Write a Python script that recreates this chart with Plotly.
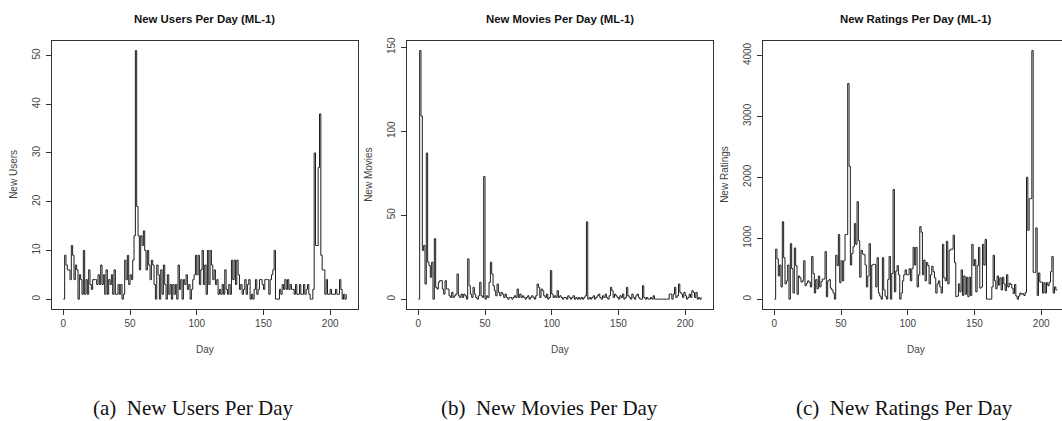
import plotly.graph_objects as go

# ---- daily counts for the ML-1 data set (day index 0..212) ----
days = list(range(213))

new_users = [
    0, 9, 7, 6, 6, 4, 11, 9, 4, 7,
    6, 0, 5, 4, 1, 10, 1, 4, 1, 6,
    3, 2, 4, 4, 4, 3, 5, 3, 7, 3,
    5, 1, 6, 1, 4, 3, 5, 1, 6, 1,
    1, 3, 1, 3, 0, 1, 8, 4, 9, 3,
    5, 4, 8, 13, 51, 19, 13, 6, 13, 11,
    14, 10, 6, 10, 7, 4, 8, 7, 3, 0,
    7, 5, 0, 6, 1, 7, 3, 0, 5, 1,
    3, 0, 3, 1, 3, 0, 7, 2, 4, 0,
    4, 3, 5, 2, 3, 0, 2, 4, 5, 9,
    5, 9, 3, 6, 10, 3, 7, 1, 10, 3,
    10, 7, 4, 6, 3, 4, 1, 2, 1, 3,
    1, 6, 2, 1, 3, 1, 8, 4, 8, 3,
    8, 5, 2, 3, 1, 2, 4, 1, 3, 4,
    0, 1, 0, 2, 4, 1, 2, 4, 4, 3,
    2, 4, 4, 4, 1, 4, 5, 6, 10, 0,
    0, 0, 2, 1, 3, 2, 4, 2, 4, 2,
    3, 2, 2, 1, 3, 1, 1, 3, 1, 1,
    3, 1, 2, 3, 1, 0, 0, 2, 30, 11,
    11, 27, 38, 9, 6, 6, 1, 4, 1, 1,
    2, 1, 1, 1, 2, 1, 1, 4, 2, 0,
    1, 0, 1,
]

new_movies = [
    0, 148, 109, 29, 32, 9, 87, 22, 20, 13,
    22, 0, 36, 7, 6, 10, 11, 11, 6, 3,
    11, 6, 6, 2, 1, 4, 1, 2, 3, 15,
    2, 1, 3, 1, 3, 2, 0, 24, 8, 3,
    1, 7, 3, 1, 0, 2, 10, 2, 1, 73,
    0, 2, 1, 10, 22, 15, 8, 5, 2, 9,
    4, 2, 4, 3, 1, 3, 1, 0, 1, 1,
    0, 1, 2, 1, 6, 1, 3, 1, 2, 1,
    0, 1, 2, 0, 1, 2, 1, 0, 2, 9,
    7, 1, 6, 5, 2, 1, 3, 0, 1, 17,
    3, 1, 2, 1, 5, 1, 2, 1, 0, 1,
    1, 0, 2, 1, 0, 1, 2, 0, 1, 0,
    1, 0, 1, 0, 1, 2, 46, 0, 1, 0,
    1, 2, 0, 1, 2, 3, 1, 0, 2, 1,
    3, 1, 0, 2, 7, 5, 1, 3, 2, 1,
    0, 2, 1, 3, 0, 1, 7, 2, 1, 0,
    3, 1, 0, 2, 3, 1, 0, 0, 8, 1,
    0, 1, 0, 0, 1, 0, 2, 0, 0, 0,
    0, 0, 0, 0, 0, 0, 0, 0, 3, 3,
    0, 3, 7, 1, 2, 9, 4, 3, 1, 4,
    2, 0, 1, 3, 1, 5, 4, 1, 4, 0,
    1, 0, 1,
]

new_ratings = [
    0, 820, 660, 380, 560, 200, 1270, 680, 250, 300,
    560, 0, 910, 500, 100, 840, 550, 80, 380, 350,
    280, 300, 630, 220, 260, 300, 280, 200, 700, 420,
    100, 320, 170, 380, 200, 290, 330, 330, 780, 40,
    300, 320, 180, 150, 100, 0, 720, 550, 1060, 270,
    630, 300, 630, 1060, 1060, 3540, 2180, 560, 750, 860,
    1240, 900, 1600, 960, 360, 800, 740, 730, 560, 200,
    380, 910, 0, 560, 570, 570, 200, 680, 100, 50,
    0, 680, 150, 50, 0, 320, 700, 0, 420, 1800,
    120, 460, 550, 400, 0, 100, 300, 400, 480, 400,
    400, 500, 300, 500, 850, 560, 850, 200, 400, 1190,
    1100, 400, 640, 300, 600, 550, 250, 400, 540, 450,
    350, 100, 250, 300, 200, 100, 900, 350, 300, 950,
    250, 800, 820, 820, 1050, 600, 40, 50, 250, 120,
    480, 60, 380, 80, 360, 40, 360, 60, 900, 550,
    650, 120, 550, 850, 180, 200, 900, 560, 980, 0,
    0, 0, 0, 200, 720, 300, 170, 380, 230, 350,
    150, 360, 250, 140, 400, 200, 260, 240, 180, 90,
    240, 50, 0, 50, 100, 80, 90, 60, 110, 2000,
    1130, 1650, 1650, 4080, 440, 440, 1170, 60, 430, 280,
    280, 100, 270, 100, 270, 220, 280, 450, 700, 100,
    200, 150, 150,
]

x_ticks = [0, 50, 100, 150, 200]
users_ticks = [0, 10, 20, 30, 40, 50]
movies_ticks = [0, 50, 100, 150]
ratings_ticks = [0, 1000, 2000, 3000, 4000]

titles = ["New Users Per Day (ML-1)", "New Movies Per Day (ML-1)", "New Ratings Per Day (ML-1)"]
y_titles = ["New Users", "New Movies", "New Ratings"]
captions = ["(a)\u00a0\u00a0New Users Per Day", "(b)\u00a0\u00a0New Movies Per Day", "(c)\u00a0\u00a0New Ratings Per Day"]

# ---- page geometry (pixels) ----
W, H = 1062, 421
box_top, box_bottom = 37, 308
box_lefts = [52, 407, 763]
box_width = 305.5
caption_x = [193, 549, 904]

SANS = "Liberation Sans, Arial, sans-serif"
SERIF = "Liberation Serif, Times New Roman, serif"
INK = "#1e1e1e"
TXT = "#444444"


def padded(lo, hi):
    span = hi - lo
    return [lo - 0.04 * span, hi + 0.04 * span]


def px_x(p):
    return p / W


def px_y(p):
    return 1 - p / H


series = [new_users, new_movies, new_ratings]
y_tick_sets = [users_ticks, movies_ticks, ratings_ticks]

fig = go.Figure()
layout = dict(
    width=W, height=H,
    margin=dict(l=0, r=0, t=0, b=0),
    paper_bgcolor="white", plot_bgcolor="white",
    showlegend=False,
    font=dict(family=SANS, color=TXT, size=10),
)
annotations = []

for i, vals in enumerate(series):
    n = "" if i == 0 else str(i + 1)
    fig.add_trace(go.Scatter(
        x=days, y=vals, mode="lines",
        line=dict(shape="hv", color=INK, width=1),
        xaxis="x" + n, yaxis="y" + n, hoverinfo="skip",
    ))

    xr = padded(min(days), max(days))
    left = box_lefts[i]
    right = left + box_width
    if right > W:
        # the last panel runs past the page edge: keep the same scale, show what fits
        frac = (W - left) / box_width
        xr = [xr[0], xr[0] + (xr[1] - xr[0]) * frac]
        right = W
    yr = padded(0, max(vals))

    axis_common = dict(
        showgrid=False, zeroline=False, showline=True,
        linecolor="#333333", linewidth=1,
        ticks="outside", ticklen=5, tickwidth=1, tickcolor="#333333",
        tickfont=dict(size=10, color=TXT, family=SANS),
    )
    layout["xaxis" + n] = dict(
        axis_common, domain=[px_x(left), px_x(right)], range=xr,
        anchor="y" + n, mirror=True,
        tickvals=x_ticks, ticklabelstandoff=0,
    )
    layout["yaxis" + n] = dict(
        axis_common, domain=[px_y(box_bottom), px_y(box_top)], range=yr,
        anchor="x" + n, mirror=(right < W),
        tickvals=y_tick_sets[i], tickangle=-90, ticklabelstandoff=2,
    )

    center = box_lefts[i] + box_width / 2
    annotations.append(dict(
        text="<b>" + titles[i] + "</b>", x=px_x(center), y=px_y(15),
        xref="paper", yref="paper", showarrow=False,
        xanchor="center", yanchor="middle",
        font=dict(size=11.4, family=SANS, color="#111111"),
    ))
    annotations.append(dict(
        text="Day", x=px_x(center), y=px_y(349),
        xref="paper", yref="paper", showarrow=False,
        xanchor="center", yanchor="middle",
        font=dict(size=10, family=SANS, color=TXT),
    ))
    annotations.append(dict(
        text=y_titles[i], x=px_x(box_lefts[i] - 38), y=px_y((box_top + box_bottom) / 2),
        xref="paper", yref="paper", showarrow=False, textangle=-90,
        xanchor="center", yanchor="middle",
        font=dict(size=10, family=SANS, color=TXT),
    ))
    annotations.append(dict(
        text=captions[i], x=px_x(caption_x[i]), y=px_y(408),
        xref="paper", yref="paper", showarrow=False,
        xanchor="center", yanchor="middle",
        font=dict(size=21, family=SERIF, color="#111111"),
    ))

layout["annotations"] = annotations
fig.update_layout(**layout)

fig.write_html("out.html")
